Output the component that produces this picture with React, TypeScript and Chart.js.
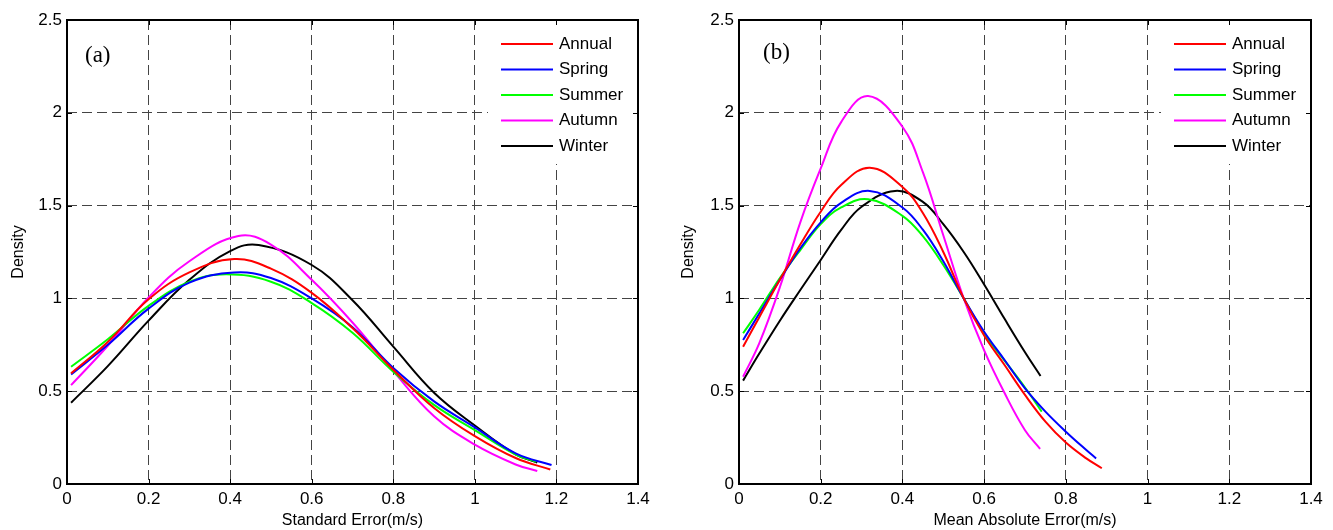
import { useEffect, useRef } from "react";
import { Chart, registerables } from "chart.js";
Chart.register(...registerables);

const seriesNames = ["Annual", "Spring", "Summer", "Autumn", "Winter"];
const seriesColors = ["#ff0000", "#0000ff", "#00ff00", "#ff00ff", "#000000"];

const xTickValues = [0, 0.2, 0.4, 0.6, 0.8, 1, 1.2, 1.4];
const xTickLabels = ["0", "0.2", "0.4", "0.6", "0.8", "1", "1.2", "1.4"];
const yTickValues = [0, 0.5, 1, 1.5, 2, 2.5];
const yTickLabels = ["0", "0.5", "1", "1.5", "2", "2.5"];

// Panel (a): Standard Error
const annualAX = [0.01, 0.1, 0.2, 0.3, 0.41, 0.5, 0.6, 0.7, 0.8, 0.9, 1.0, 1.1, 1.185];
const annualAY = [0.596, 0.765, 0.995, 1.14, 1.212, 1.16, 1.03, 0.84, 0.616, 0.41, 0.258, 0.14, 0.078];
const springAX = [0.01, 0.1, 0.2, 0.3, 0.41, 0.5, 0.6, 0.7, 0.8, 0.9, 1.0, 1.1, 1.188];
const springAY = [0.59, 0.75, 0.945, 1.085, 1.14, 1.11, 1.0, 0.845, 0.625, 0.445, 0.305, 0.165, 0.102];
const summerAX = [0.01, 0.1, 0.2, 0.3, 0.39, 0.5, 0.6, 0.7, 0.8, 0.9, 1.0, 1.1, 1.15];
const summerAY = [0.632, 0.78, 0.96, 1.09, 1.13, 1.09, 0.975, 0.815, 0.605, 0.426, 0.29, 0.158, 0.12];
const autumnAX = [0.01, 0.1, 0.2, 0.3, 0.42, 0.5, 0.6, 0.7, 0.8, 0.9, 1.0, 1.1, 1.153];
const autumnAY = [0.533, 0.745, 1.005, 1.2, 1.336, 1.29, 1.1, 0.87, 0.608, 0.365, 0.212, 0.105, 0.07];
const winterAX = [0.01, 0.1, 0.2, 0.3, 0.4, 0.47, 0.6, 0.7, 0.8, 0.9, 1.0, 1.1, 1.153];
const winterAY = [0.438, 0.635, 0.88, 1.1, 1.255, 1.288, 1.18, 0.99, 0.74, 0.492, 0.315, 0.16, 0.115];

// Panel (b): Mean Absolute Error
const annualBX = [0.01, 0.05, 0.1, 0.15, 0.2, 0.25, 0.32, 0.4, 0.45, 0.5, 0.55, 0.6, 0.65, 0.7, 0.75, 0.8, 0.85, 0.888];
const annualBY = [0.74, 0.9, 1.1, 1.29, 1.467, 1.611, 1.704, 1.6, 1.46, 1.25, 1.0, 0.8, 0.641, 0.48, 0.336, 0.223, 0.138, 0.085];
const springBX = [0.01, 0.05, 0.1, 0.15, 0.2, 0.25, 0.32, 0.4, 0.45, 0.5, 0.55, 0.6, 0.65, 0.7, 0.75, 0.8, 0.85, 0.874];
const springBY = [0.776, 0.92, 1.1, 1.27, 1.41, 1.515, 1.579, 1.49, 1.37, 1.2, 1.0, 0.82, 0.668, 0.515, 0.39, 0.282, 0.183, 0.138];
const summerBX = [0.01, 0.05, 0.1, 0.15, 0.2, 0.25, 0.316, 0.4, 0.45, 0.5, 0.55, 0.6, 0.65, 0.7, 0.741];
const summerBY = [0.812, 0.94, 1.11, 1.26, 1.4, 1.49, 1.534, 1.445, 1.335, 1.18, 1.0, 0.81, 0.665, 0.52, 0.39];
const autumnBX = [0.01, 0.05, 0.1, 0.15, 0.2, 0.25, 0.316, 0.4, 0.45, 0.5, 0.55, 0.6, 0.65, 0.7, 0.737];
const autumnBY = [0.578, 0.76, 1.06, 1.41, 1.7, 1.95, 2.09, 1.925, 1.68, 1.34, 1.0, 0.72, 0.49, 0.29, 0.189];
const winterBX = [0.01, 0.05, 0.1, 0.15, 0.2, 0.25, 0.3, 0.382, 0.45, 0.5, 0.55, 0.6, 0.65, 0.7, 0.738];
const winterBY = [0.557, 0.704, 0.88, 1.045, 1.207, 1.369, 1.494, 1.579, 1.52, 1.4, 1.25, 1.075, 0.89, 0.71, 0.582];

const SANS = "'Liberation Sans', Arial, sans-serif";
const SERIF = "'Liberation Serif', 'Times New Roman', serif";

type PanelCfg = {
  xs: number[][];
  ys: number[][];
  xTitle: string;
  panelLabel: string;
  labelDx: number;
  labelDy: number;
  yAxisWidth: number;
  padRight: number;
  yTitlePad: number;
};

const framePlugin = {
  id: "frameLegend",
  afterDraw(chart: any, _args: any, opts: any) {
    const { ctx } = chart;
    const { left, right, top, bottom } = chart.chartArea;
    ctx.save();
    // legend box
    ctx.fillStyle = "#ffffff";
    ctx.fillRect(right - 150, top + 1, 150, 143);
    ctx.font = `17px ${SANS}`;
    ctx.textBaseline = "middle";
    ctx.textAlign = "left";
    seriesNames.forEach((name, i) => {
      const y = top + 24 + i * 25.5;
      ctx.strokeStyle = seriesColors[i];
      ctx.lineWidth = 2;
      ctx.beginPath();
      ctx.moveTo(right - 137, y);
      ctx.lineTo(right - 85, y);
      ctx.stroke();
      ctx.fillStyle = "#000";
      ctx.fillText(name, right - 79, y);
    });
    // inward ticks
    const xs = chart.scales.x;
    const ys = chart.scales.y;
    ctx.strokeStyle = "#000";
    ctx.lineWidth = 1;
    ctx.beginPath();
    xTickValues.forEach((v) => {
      const px = Math.round(xs.getPixelForValue(v)) + 0.5;
      ctx.moveTo(px, bottom);
      ctx.lineTo(px, bottom - 5);
      ctx.moveTo(px, top);
      ctx.lineTo(px, top + 5);
    });
    yTickValues.forEach((v) => {
      const py = Math.round(ys.getPixelForValue(v)) + 0.5;
      ctx.moveTo(left, py);
      ctx.lineTo(left + 5, py);
      ctx.moveTo(right, py);
      ctx.lineTo(right - 5, py);
    });
    ctx.stroke();
    // frame
    ctx.lineWidth = 2;
    ctx.strokeRect(left, top, right - left, bottom - top);
    // panel label
    ctx.fillStyle = "#000";
    ctx.font = `23px ${SERIF}`;
    ctx.textBaseline = "middle";
    ctx.fillText(opts.label, left + opts.dx, top + opts.dy);
    ctx.restore();
  },
};

function makeChart(canvas: HTMLCanvasElement, cfg: PanelCfg) {
  const datasets = seriesNames.map((name, i) => ({
    label: name,
    data: cfg.xs[i].map((x, j) => ({ x, y: cfg.ys[i][j] })),
    borderColor: seriesColors[i],
    backgroundColor: seriesColors[i],
    borderWidth: 2,
    pointRadius: 0,
    fill: false,
    tension: 0.4,
  }));
  return new Chart(canvas, {
    type: "line",
    data: { datasets },
    plugins: [framePlugin],
    options: {
      animation: false,
      responsive: false,
      events: [],
      layout: { padding: { left: 0, right: cfg.padRight, top: 20, bottom: 0 } },
      plugins: {
        legend: { display: false },
        tooltip: { enabled: false },
        frameLegend: { label: cfg.panelLabel, dx: cfg.labelDx, dy: cfg.labelDy },
      } as any,
      scales: {
        x: {
          type: "linear",
          min: 0,
          max: 1.4,
          afterBuildTicks: (s: any) => {
            s.ticks = xTickValues.map((v) => ({ value: v }));
          },
          afterFit: (s: any) => {
            s.height = 46;
          },
          ticks: {
            padding: 5,
            color: "#000",
            font: { family: SANS, size: 17 },
            maxRotation: 0,
            callback: (v: any) => xTickLabels[xTickValues.indexOf(Number(v))] ?? "",
          },
          grid: { color: "#444", lineWidth: 1, drawTicks: false },
          border: { display: false, dash: [10, 5] },
          title: {
            display: true,
            text: cfg.xTitle,
            color: "#000",
            font: { family: SANS, size: 16 },
            padding: { top: 0, bottom: 0 },
          },
        },
        y: {
          type: "linear",
          min: 0,
          max: 2.5,
          afterBuildTicks: (s: any) => {
            s.ticks = yTickValues.map((v) => ({ value: v }));
          },
          afterFit: (s: any) => {
            s.width = cfg.yAxisWidth;
          },
          ticks: {
            padding: 5,
            color: "#000",
            font: { family: SANS, size: 17 },
            callback: (v: any) => yTickLabels[yTickValues.indexOf(Number(v))] ?? "",
          },
          grid: { color: "#444", lineWidth: 1, drawTicks: false },
          border: { display: false, dash: [10, 5] },
          title: {
            display: true,
            text: "Density",
            color: "#000",
            font: { family: SANS, size: 16 },
            padding: { top: cfg.yTitlePad, bottom: 0 },
          },
        },
      },
    } as any,
  });
}

export default function App() {
  const refA = useRef<HTMLCanvasElement>(null);
  const refB = useRef<HTMLCanvasElement>(null);
  useEffect(() => {
    const a = makeChart(refA.current!, {
      xs: [annualAX, springAX, summerAX, autumnAX, winterAX],
      ys: [annualAY, springAY, summerAY, autumnAY, winterAY],
      xTitle: "Standard Error(m/s)",
      panelLabel: "(a)",
      labelDx: 18,
      labelDy: 36,
      yAxisWidth: 67,
      padRight: 28,
      yTitlePad: 9,
    });
    const b = makeChart(refB.current!, {
      xs: [annualBX, springBX, summerBX, autumnBX, winterBX],
      ys: [annualBY, springBY, summerBY, autumnBY, winterBY],
      xTitle: "Mean Absolute Error(m/s)",
      panelLabel: "(b)",
      labelDx: 24,
      labelDy: 33,
      yAxisWidth: 73,
      padRight: 22,
      yTitlePad: 13,
    });
    return () => {
      a.destroy();
      b.destroy();
    };
  }, []);
  return (
    <div style={{ position: "absolute", left: 0, top: 0, width: 1333, height: 530, background: "#fff" }}>
      <canvas ref={refA} width={666} height={530} style={{ position: "absolute", left: 0, top: 0, width: 666, height: 530 }} />
      <canvas ref={refB} width={667} height={530} style={{ position: "absolute", left: 666, top: 0, width: 667, height: 530 }} />
    </div>
  );
}
